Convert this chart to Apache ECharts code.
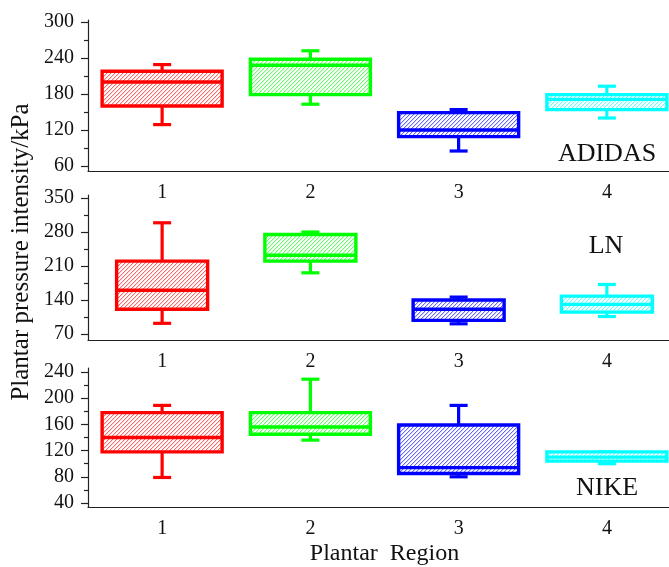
<!DOCTYPE html>
<html><head><meta charset="utf-8">
<script src="https://cdn.jsdelivr.net/npm/echarts@6/dist/echarts.min.js"></script>
<style>html,body{margin:0;padding:0;background:#fff}#c{width:669px;height:567px}</style>
</head><body><div id="c"></div>
<script>
const categories = ['1', '2', '3', '4'];
const colors = ['#FF0000', '#00FF00', '#0000FF', '#00FFFF'];
// each box: [low, Q1, median, Q3, high]
const adidas = [[129, 160, 200, 218, 229], [163, 179, 228, 238, 252], [85, 109, 120, 149, 154], [140, 154, 171, 179, 193]];
const ln = [[92, 121, 160, 220, 299], [196, 220, 232, 275, 280], [91, 98, 121, 140, 146], [106, 115, 131, 148, 172]];
const nike = [[79, 118, 140, 178, 189], [136, 145, 156, 178, 229], [80, 85, 94, 159, 189], [100, 104, 110, 118, 118]];
const panelNames = ['ADIDAS', 'LN', 'NIKE'];
const yMajor = [[60, 120, 180, 240, 300], [70, 140, 210, 280, 350], [40, 80, 120, 160, 200, 240]];
const yMinor = [[90, 150, 210, 270], [105, 175, 245, 315], [60, 100, 140, 180, 220]];
const yRange = [[51.7, 303.3], [57.65, 356.2], [33.9, 246.1]];
const yTitle = 'Plantar pressure intensity/kPa';
const xTitle = 'Plantar  Region';

const FONT = '"Liberation Serif", "Times New Roman", serif';
const panels = [adidas, ln, nike];
const grids = [
  { left: 88, right: -12, top: 20, height: 151 },
  { left: 88, right: -12, top: 195, height: 145 },
  { left: 88, right: -12, top: 368, height: 139 }
];
const boxWidths = [120, 91, 120];
const labelPos = [[607, 154], [606, 246], [607, 488]];

function hatch(color) {
  const c = document.createElement('canvas');
  c.width = 4; c.height = 4;
  const g = c.getContext('2d');
  g.fillStyle = '#fff'; g.fillRect(0, 0, 4, 4);
  g.globalAlpha = 0.15; g.fillStyle = color;
  for (let i = 0; i < 4; i++) { g.fillRect(i, (4 - i) % 4, 1, 1); }
  g.globalAlpha = 0.6;
  for (let i = 0; i < 4; i++) { g.fillRect(i, 3 - i, 1, 1); }
  return c;
}
const patterns = colors.map(c => ({ image: hatch(c), repeat: 'repeat' }));

function makeRender(boxW) {
  return function (params, api) {
    const i = api.value(0);
    const col = colors[i];
    const pLow = api.coord([i, api.value(1)]);
    const pQ1 = api.coord([i, api.value(2)]);
    const pMed = api.coord([i, api.value(3)]);
    const pQ3 = api.coord([i, api.value(4)]);
    const pHigh = api.coord([i, api.value(5)]);
    const cx = pMed[0];
    const hw = boxW / 2, cap = 9;
    const ls = { stroke: col, lineWidth: 3.2 };
    return {
      type: 'group',
      children: [
        { type: 'line', shape: { x1: cx, y1: pHigh[1], x2: cx, y2: pQ3[1] }, style: ls },
        { type: 'line', shape: { x1: cx, y1: pQ1[1], x2: cx, y2: pLow[1] }, style: ls },
        { type: 'line', shape: { x1: cx - cap, y1: pHigh[1], x2: cx + cap, y2: pHigh[1] }, style: ls },
        { type: 'line', shape: { x1: cx - cap, y1: pLow[1], x2: cx + cap, y2: pLow[1] }, style: ls },
        { type: 'rect', shape: { x: cx - hw, y: pQ3[1], width: boxW, height: pQ1[1] - pQ3[1] },
          style: { fill: patterns[i], stroke: col, lineWidth: 3.4 } },
        { type: 'line', shape: { x1: cx - hw, y1: pMed[1], x2: cx + hw, y2: pMed[1] }, style: { stroke: col, lineWidth: 3.4 } }
      ]
    };
  };
}

const xAxis = [], yAxis = [], series = [];
panels.forEach((data, k) => {
  xAxis.push({
    type: 'category', gridIndex: k, data: categories,
    axisLine: { lineStyle: { color: '#222', width: 1.2 } },
    axisTick: { alignWithLabel: true, length: 8, lineStyle: { color: '#222', width: 1.2 } },
    axisLabel: { fontFamily: FONT, fontSize: 20, color: '#111', margin: 12 },
    splitLine: { show: false },
    name: k === 2 ? xTitle : '', nameLocation: 'middle', nameGap: 35,
    nameTextStyle: { fontFamily: FONT, fontSize: 24, color: '#111' }
  });
  yAxis.push({
    type: 'value', gridIndex: k, position: 'left', min: yRange[k][0], max: yRange[k][1],
    axisLine: { show: true, lineStyle: { color: '#222', width: 1.2 } },
    axisTick: { show: true, length: 7, customValues: yMajor[k], lineStyle: { color: '#222', width: 1.2 } },
    axisLabel: { customValues: yMajor[k], fontFamily: FONT, fontSize: 20, color: '#111', margin: 14 },
    splitLine: { show: false }
  });
  yAxis.push({
    type: 'value', gridIndex: k, position: 'left', min: yRange[k][0], max: yRange[k][1],
    axisLine: { show: false },
    axisTick: { show: true, length: 4, customValues: yMinor[k], lineStyle: { color: '#222', width: 1.2 } },
    axisLabel: { show: false },
    splitLine: { show: false }
  });
  series.push({
    type: 'custom', xAxisIndex: k, yAxisIndex: 2 * k,
    renderItem: makeRender(boxWidths[k]),
    encode: { x: 0, y: [1, 2, 3, 4, 5] },
    data: data.map((d, i) => [i].concat(d)),
    clip: false, silent: true
  });
});

const graphic = [{
  type: 'text', x: 21, y: 252, rotation: Math.PI / 2,
  style: { text: yTitle, font: '25px ' + FONT, fill: '#111', textAlign: 'center', textVerticalAlign: 'middle' }
}];
panelNames.forEach((n, k) => graphic.push({
  type: 'text', x: labelPos[k][0], y: labelPos[k][1],
  style: { text: n, font: '26px ' + FONT, fill: '#111', textAlign: 'center', textVerticalAlign: 'middle' }
}));

const chart = echarts.init(document.getElementById('c'), null, { renderer: 'canvas' });
chart.setOption({
  backgroundColor: '#fff',
  animation: false,
  grid: grids.map(g => Object.assign({ outerBoundsMode: 'none', containLabel: false }, g)),
  xAxis, yAxis, series, graphic
});
</script></body></html>
